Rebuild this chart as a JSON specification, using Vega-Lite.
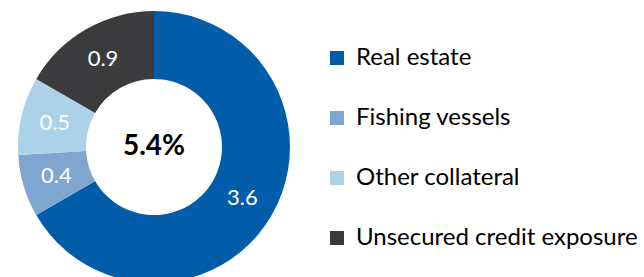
{
  "$schema": "https://vega.github.io/schema/vega-lite/v6.json",
  "width": 308,
  "height": 294,
  "padding": 0,
  "autosize": {"type": "pad"},
  "background": "white",
  "config": {"view": {"stroke": null}},
  "data": {
    "values": [
      {"category": "Real estate", "value": 3.6, "idx": 1},
      {"category": "Fishing vessels", "value": 0.4, "idx": 2},
      {"category": "Other collateral", "value": 0.5, "idx": 3},
      {"category": "Unsecured credit exposure", "value": 0.9, "idx": 4}
    ]
  },
  "layer": [
    {
      "mark": {"type": "arc", "innerRadius": 68, "outerRadius": 136},
      "encoding": {
        "theta": {"field": "value", "type": "quantitative", "stack": true},
        "order": {"field": "idx", "type": "quantitative"},
        "color": {
          "field": "category",
          "type": "nominal",
          "scale": {
            "domain": ["Real estate", "Fishing vessels", "Other collateral", "Unsecured credit exposure"],
            "range": ["#015DAA", "#7FA6CE", "#ABD2E8", "#3B3B3D"]
          },
          "legend": {
            "orient": "none",
            "legendX": 325,
            "legendY": 46,
            "padding": 0,
            "title": null,
            "symbolType": "square",
            "symbolSize": 196,
            "symbolStrokeWidth": 0,
            "labelFont": "Lato",
            "labelFontSize": 24,
            "labelColor": "#000000",
            "labelOffset": 7,
            "rowPadding": 36,
            "labelLimit": 400
          }
        }
      }
    },
    {
      "mark": {"type": "text", "radius": 102, "fontSize": 22, "font": "Lato", "fill": "white"},
      "encoding": {
        "theta": {"field": "value", "type": "quantitative", "stack": true},
        "order": {"field": "idx", "type": "quantitative"},
        "text": {"field": "value", "type": "quantitative", "format": ".1f"}
      }
    },
    {
      "data": {"values": [{"total": "5.4%"}]},
      "mark": {"type": "text", "fontSize": 28, "font": "Lato", "fontWeight": "bold", "fill": "black"},
      "encoding": {"text": {"field": "total", "type": "nominal"}}
    }
  ]
}
